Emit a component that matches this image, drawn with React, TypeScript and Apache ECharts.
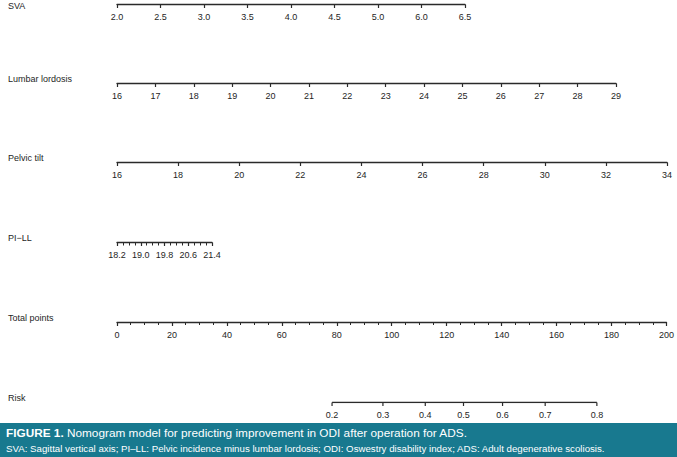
import React, { useEffect, useRef } from "react";
import * as echarts from "echarts";

// ---- data ----
const svaTicks = ["2.0", "2.5", "3.0", "3.5", "4.0", "4.5", "5.0", "6.0", "6.5"];
const lumbarRange = [16, 29];
const pelvicRange = [16, 34];
const piLLTicks = ["18.2", "19.0", "19.8", "20.6", "21.4"];
const totalRange = [0, 200];
const riskTicks = ["0.2", "0.3", "0.4", "0.5", "0.6", "0.7", "0.8"];
const riskPoints = [78.2, 96.7, 112.1, 126.0, 140.2, 155.7, 174.5];
const rowLabels = ["SVA", "Lumbar lordosis", "Pelvic tilt", "PI\u2212LL", "Total points", "Risk"];

const FONT = "Liberation Sans, Arial, Helvetica, sans-serif";
const LINE = "#2a2a2a";
const TXT = "#1e1e1e";

const rowY = [4.5, 83.5, 162.5, 242.5, 322.5, 402.5];
const labelTop = [1, 74, 153.5, 233.5, 313, 393];

function baseAxis(gridIndex: number) {
  return {
    gridIndex,
    type: "value" as const,
    position: "bottom" as const,
    axisLine: { show: true, onZero: false, lineStyle: { color: LINE, width: 1.3 } },
    axisTick: { show: true, inside: false, length: 3.5, lineStyle: { color: LINE, width: 1.2 } },
    axisLabel: { show: true, margin: 7.5, fontSize: 9, color: TXT, fontFamily: FONT, showMinLabel: true, showMaxLabel: true },
    splitLine: { show: false },
  };
}

export default function App() {
  const ref = useRef<HTMLDivElement>(null);
  useEffect(() => {
    if (!ref.current) return;
    const chart = echarts.init(ref.current, undefined, { renderer: "svg" });
    const grids = [
      { left: 117, right: 677 - 465 },
      { left: 117, right: 677 - 616 },
      { left: 117, right: 677 - 667 },
      { left: 117, right: 677 - 212 },
      { left: 117, right: 677 - 667 },
      { left: 117, right: 677 - 667 },
    ].map((g, i) => ({ ...g, top: rowY[i] - 10, height: 10, containLabel: false }));

    const xAxis: any[] = [
      {
        ...baseAxis(0),
        min: 0,
        max: svaTicks.length - 1,
        interval: 1,
        axisLabel: { ...baseAxis(0).axisLabel, formatter: (v: number) => svaTicks[Math.round(v)] ?? "" },
      },
      { ...baseAxis(1), min: lumbarRange[0], max: lumbarRange[1], interval: 1 },
      { ...baseAxis(2), min: pelvicRange[0], max: pelvicRange[1], interval: 2 },
      {
        ...baseAxis(3),
        min: 0,
        max: piLLTicks.length - 1,
        interval: 1,
        minorTick: { show: true, splitNumber: 4, length: 3, lineStyle: { color: LINE, width: 1 } },
        axisLabel: { ...baseAxis(3).axisLabel, formatter: (v: number) => piLLTicks[Math.round(v)] ?? "" },
      },
      {
        ...baseAxis(4),
        min: totalRange[0],
        max: totalRange[1],
        interval: 20,
        minorTick: { show: true, splitNumber: 4, length: 2.5, lineStyle: { color: LINE, width: 1 } },
      },
      {
        gridIndex: 5,
        type: "value",
        min: totalRange[0],
        max: totalRange[1],
        show: false,
      },
    ];
    const yAxis = grids.map((_, i) => ({ gridIndex: i, type: "value", min: 0, max: 1, show: false }));

    const riskData = riskPoints.map((p, i) => [p, 0, i]);

    const graphic: any[] = [
      ...rowLabels.map((t, i) => ({
        type: "text",
        left: 8,
        top: labelTop[i],
        style: { text: t, fontSize: 9, fill: TXT, fontFamily: FONT },
      })),
      {
        type: "rect",
        shape: { x: 0, y: 423, width: 677, height: 34 },
        style: { fill: "#18798f" },
      },
      {
        type: "text",
        x: 6,
        y: 433,
        style: {
          text: "{b|FIGURE 1.} Nomogram model for predicting improvement in ODI after operation for ADS.",
          fontSize: 11.8,
          fill: "#ffffff",
          fontFamily: FONT,
          verticalAlign: "middle",
          rich: { b: { fontWeight: "bold", fontSize: 11.8, fill: "#ffffff", fontFamily: FONT } },
        },
      },
      {
        type: "text",
        x: 6,
        y: 448,
        style: {
          text: "SVA: Sagittal vertical axis; PI\u2013LL: Pelvic incidence minus lumbar lordosis; ODI: Oswestry disability index; ADS: Adult degenerative scoliosis.",
          fontSize: 9.7,
          fill: "#ffffff",
          fontFamily: FONT,
          verticalAlign: "middle",
        },
      },
    ];

    chart.setOption({
      animation: false,
      backgroundColor: "#ffffff",
      grid: grids,
      xAxis,
      yAxis,
      graphic,
      series: [
        {
          type: "line",
          xAxisIndex: 5,
          yAxisIndex: 5,
          data: [
            [riskPoints[0], 0],
            [riskPoints[riskPoints.length - 1], 0],
          ],
          symbol: "none",
          lineStyle: { color: LINE, width: 1.3 },
          silent: true,
        },
        {
          type: "custom",
          xAxisIndex: 5,
          yAxisIndex: 5,
          data: riskData,
          renderItem: (params: any, api: any) => {
            const p = api.coord([api.value(0), 0]);
            const idx = api.value(2);
            return {
              type: "group",
              children: [
                {
                  type: "line",
                  shape: { x1: p[0], y1: p[1], x2: p[0], y2: p[1] + 3.5 },
                  style: { stroke: LINE, lineWidth: 1.2 },
                },
                {
                  type: "text",
                  x: p[0],
                  y: p[1] + 7.5,
                  style: {
                    text: riskTicks[idx],
                    fontSize: 9,
                    fill: TXT,
                    fontFamily: FONT,
                    align: "center",
                    verticalAlign: "top",
                  },
                },
              ],
            };
          },
        },
      ],
    });
    return () => chart.dispose();
  }, []);
  return <div ref={ref} style={{ position: "absolute", left: 0, top: 0, width: 677, height: 457 }} />;
}
